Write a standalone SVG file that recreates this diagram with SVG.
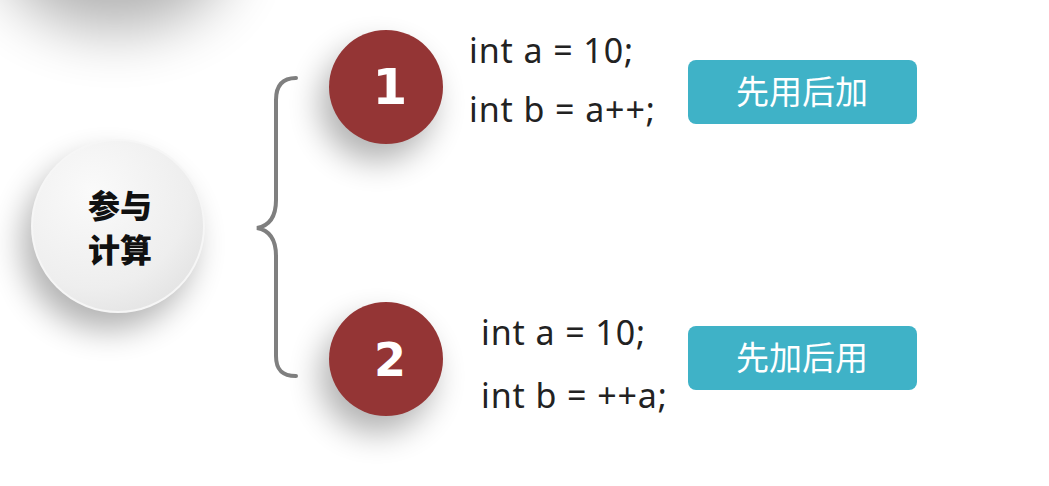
<svg xmlns="http://www.w3.org/2000/svg" width="1049" height="486" viewBox="0 0 1049 486">
<defs>
<filter id="sh" x="-80%" y="-80%" width="260%" height="260%"><feGaussianBlur stdDeviation="16"/></filter>
<filter id="sh2" x="-80%" y="-80%" width="260%" height="260%"><feGaussianBlur stdDeviation="30"/></filter>
<radialGradient id="wg" cx="0.35" cy="0.3" r="0.8">
<stop offset="0" stop-color="#fafafa"/><stop offset="0.7" stop-color="#eeeeee"/><stop offset="1" stop-color="#e2e2e2"/>
</radialGradient>
<style>
.code{font-family:"Noto Sans","Open Sans",sans-serif;font-size:34px;letter-spacing:0.9px;fill:#222}
.num{font-family:"DejaVu Sans",sans-serif;font-weight:bold;fill:#fff;text-anchor:middle}
.btn{fill:#3fb2c7}
.btxt{font-family:"Noto Sans CJK SC",sans-serif;font-size:33px;fill:#fff;text-anchor:middle}
.red{fill:#943535}
.shadow{fill:#000;opacity:0.3}
.ctr{font-family:"Noto Sans CJK SC",sans-serif;font-size:32px;font-weight:900;fill:#111;text-anchor:middle}
</style>
</defs>
<rect width="1049" height="486" fill="#fff"/>
<ellipse cx="115" cy="-50" rx="115" ry="80" fill="#000" opacity="0.3" filter="url(#sh2)"/>
<g id="center">
<circle cx="108" cy="244" r="86" class="shadow" filter="url(#sh)"/>
<circle cx="118" cy="226" r="86" fill="url(#wg)" stroke="#f6f6f6" stroke-width="2"/>
<text x="120" y="218" class="ctr">参与</text>
<text x="120" y="262" class="ctr">计算</text>
</g>
<g id="connectors">
<path d="M296,78 C282,78 276,86 276,100 L276,200 C276,218 268,226 257,228 C268,230 276,238 276,256 L276,356 C276,370 282,376 296,376" fill="none" stroke="#7f7f7f" stroke-width="4" stroke-linecap="round"/>
</g>
<g id="n1">
<circle cx="377" cy="104" r="57" class="shadow" filter="url(#sh)"/>
<circle cx="386" cy="87" r="57" class="red"/>
<text x="390" y="104" class="num" font-size="50">1</text>
<text x="469" y="63" class="code">int a = 10;</text>
<text x="469" y="122" class="code">int b = a++;</text>
<rect x="688" y="60" width="229" height="64" rx="8" class="btn"/>
<text x="802" y="104" class="btxt">先用后加</text>
</g>
<g id="n2">
<circle cx="377" cy="376" r="57" class="shadow" filter="url(#sh)"/>
<circle cx="386" cy="359" r="57" class="red"/>
<text x="390" y="376" class="num" font-size="46">2</text>
<text x="481" y="345" class="code">int a = 10;</text>
<text x="481" y="408" class="code">int b = ++a;</text>
<rect x="688" y="326" width="229" height="64" rx="8" class="btn"/>
<text x="802" y="370" class="btxt">先加后用</text>
</g>
</svg>
